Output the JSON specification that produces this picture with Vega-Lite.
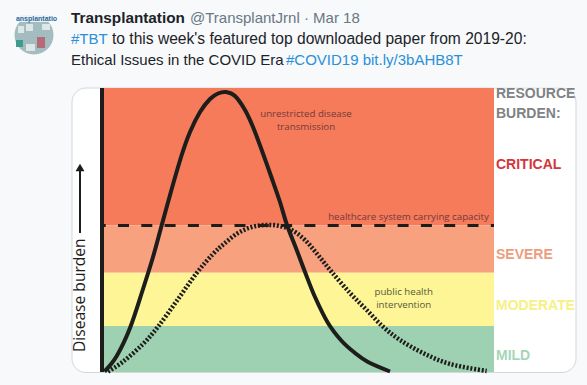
{"$schema":"https://vega.github.io/schema/vega-lite/v6.json","width":587,"height":385,"padding":0,"autosize":{"type":"fit","contains":"padding"},"background":"#f7f9fa","view":{"stroke":null},
"datasets":{
"card":[{"x":72,"x2":576,"y":88,"y2":372.5}],
"bands":[{"band":"Critical","x":104,"x2":494,"y":88,"y2":225.5},{"band":"Severe","x":104,"x2":494,"y":225.5,"y2":272.7},{"band":"Moderate","x":104,"x2":494,"y":272.7,"y2":326},{"band":"Mild","x":104,"x2":494,"y":326,"y2":372}],
"logo":[{"band":"logoD","x":20,"x2":48,"y":15,"y2":22},{"band":"logoA","x":26,"x2":33,"y":24,"y2":31},{"band":"logoA","x":42,"x2":50,"y":24,"y2":30},{"band":"logoA","x":26,"x2":35,"y":44,"y2":51},{"band":"logoB","x":16,"x2":23,"y":40,"y2":47},{"band":"logoC","x":37,"x2":45,"y":37,"y2":48},{"band":"logoA","x":18,"x2":24,"y":26,"y2":33}],
"capacity":[{"x":104,"y":225.5},{"x":494,"y":225.5}],
"unrestricted":[{"x":104.5,"y":371.5},{"x":116.7,"y":356},{"x":130,"y":328},{"x":143,"y":289},{"x":153,"y":257},{"x":161.5,"y":226},{"x":171.7,"y":189},{"x":181.7,"y":155},{"x":190,"y":132},{"x":200,"y":112},{"x":210,"y":99},{"x":218,"y":93.5},{"x":226,"y":92},{"x":235,"y":96},{"x":245,"y":110},{"x":253,"y":127},{"x":261.7,"y":150},{"x":271.7,"y":178},{"x":280,"y":202},{"x":287,"y":225},{"x":296.7,"y":250},{"x":305,"y":272},{"x":315,"y":297},{"x":328,"y":323},{"x":341.7,"y":341},{"x":355,"y":353},{"x":368,"y":362},{"x":390,"y":371.5}],
"intervention":[{"x":108,"y":371.5},{"x":123,"y":361.7},{"x":143,"y":344},{"x":158,"y":326.7},{"x":176.7,"y":301},{"x":196.7,"y":273},{"x":213,"y":254},{"x":225,"y":243},{"x":238,"y":233},{"x":251.7,"y":227},{"x":265,"y":225},{"x":278,"y":225.7},{"x":291.7,"y":230},{"x":305,"y":240},{"x":318,"y":255},{"x":331.7,"y":272},{"x":350,"y":293},{"x":366.7,"y":310},{"x":383,"y":326.7},{"x":400,"y":340},{"x":423,"y":353},{"x":450,"y":364},{"x":486.7,"y":371}],
"axisLine":[{"x":102,"y":88,"y2":372}],
"arrow":[{"x":80,"y":233,"y2":170}],
"arrowHead":[{"x":80,"y":167.5}],
"notes":[{"x":306,"y":117,"t":"unrestricted  disease","band":"noteRed"},{"x":306,"y":130,"t":"transmission","band":"noteRed"},{"x":408.5,"y":220,"t":"healthcare system carrying capacity","band":"noteRed"},{"x":403.7,"y":295,"t":"public health","band":"noteOlive"},{"x":403.7,"y":308,"t":"intervention","band":"noteOlive"}],
"levels":[{"x":496,"y":98,"t":"RESOURCE","band":"labelGrey"},{"x":496,"y":118,"t":"BURDEN:","band":"labelGrey"},{"x":496,"y":169,"t":"CRITICAL","band":"labelCritical"},{"x":496,"y":259,"t":"SEVERE","band":"labelSevere"},{"x":496,"y":310,"t":"MODERATE","band":"labelModerate"},{"x":496,"y":360,"t":"MILD","band":"labelMild"}],
"cover":[{"x":490,"x2":576,"y":80,"y2":87.5}],
"yLabel":[{"x":85,"y":352,"t":"Disease burden"}],
"avatar":[{"x":34,"y":35}],
"logoText":[{"x":36.5,"y":20.5,"t":"ansplantatio"}],
"name":[{"x":71,"y":23,"t":"Transplantation"}],
"tweet":[{"x":190,"y":23,"t":"@TransplantJrnl · Mar 18","band":"tweetGrey"},{"x":71,"y":44,"t":"#TBT","band":"tweetBlue"},{"x":71,"y":65,"t":"Ethical Issues in the COVID Era","band":"tweetDark"},{"x":286,"y":65,"t":"#COVID19 bit.ly/3bAHB8T","band":"tweetBlue"}],
"tweetLong":[{"x":112,"y":44,"t":"to this week's featured top downloaded paper from 2019-20:"}],
"more":[{"x":562},{"x":566.5},{"x":571}]
},
"encoding":{"x":{"field":"x","type":"quantitative","scale":{"domain":[0,587],"nice":false,"zero":false},"axis":null},"y":{"field":"y","type":"quantitative","scale":{"domain":[0,385],"reverse":true,"nice":false,"zero":false},"axis":null}},
"layer":[
{"data":{"name":"card"},"mark":{"type":"rect","fill":"#ffffff","stroke":"#cfd9de","strokeWidth":1,"cornerRadius":14},"encoding":{"x2":{"field":"x2"},"y2":{"field":"y2"}}},
{"data":{"name":"bands"},"mark":{"type":"rect"},"encoding":{"x2":{"field":"x2"},"y2":{"field":"y2"},"color":{"field":"band","type":"nominal","legend":null,"scale":{"domain":["Critical","Severe","Moderate","Mild","logoA","logoB","logoC","logoD","labelGrey","labelCritical","labelSevere","labelModerate","labelMild","tweetGrey","tweetBlue","tweetDark","noteRed","noteOlive"],"range":["#f57b5b","#f8a17f","#fdf596","#9ed1b1","#dfe6e8","#3f9a8f","#b66a78","#eef2f4","#808285","#d3363b","#ee9d80","#f6f183","#a6d6b8","#677785","#2a90d8","#1c2329","#74393a","#565a3a"]}}}},
{"data":{"name":"capacity"},"mark":{"type":"line","color":"#1d1d1b","strokeWidth":3,"strokeDash":[11,12.3],"strokeDashOffset":9.3}},
{"data":{"name":"intervention"},"mark":{"type":"line","color":"#1d1d1b","strokeWidth":4.5,"strokeDash":[2,1.8],"interpolate":"cardinal"}},
{"data":{"name":"unrestricted"},"mark":{"type":"line","color":"#1d1d1b","strokeWidth":4,"interpolate":"cardinal"}},
{"data":{"name":"axisLine"},"mark":{"type":"rule","color":"#1d1d1b","strokeWidth":4},"encoding":{"y2":{"field":"y2"}}},
{"data":{"name":"arrow"},"mark":{"type":"rule","color":"#1d1d1b","strokeWidth":2},"encoding":{"y2":{"field":"y2"}}},
{"data":{"name":"arrowHead"},"mark":{"type":"point","shape":"triangle-up","filled":true,"color":"#1d1d1b","size":80,"opacity":1}},
{"data":{"name":"notes"},"mark":{"type":"text","font":"Open Sans","fontSize":9.7,"align":"center","baseline":"alphabetic"},"encoding":{"text":{"field":"t"},"color":{"field":"band","type":"nominal","legend":null}}},
{"data":{"name":"levels"},"mark":{"type":"text","font":"Liberation Sans","fontWeight":"bold","fontSize":14,"align":"left","baseline":"alphabetic"},"encoding":{"text":{"field":"t"},"color":{"field":"band","type":"nominal","legend":null}}},
{"data":{"name":"cover"},"mark":{"type":"rect","fill":"#f7f9fa"},"encoding":{"x2":{"field":"x2"},"y2":{"field":"y2"}}},
{"data":{"name":"yLabel"},"mark":{"type":"text","font":"Open Sans","fontSize":15.6,"angle":270,"align":"left","baseline":"alphabetic","color":"#1d1d1b"},"encoding":{"text":{"field":"t"}}},
{"data":{"name":"avatar"},"mark":{"type":"point","shape":"circle","filled":true,"color":"#a3bcc0","size":1520,"opacity":1}},
{"data":{"name":"logo"},"mark":{"type":"rect"},"encoding":{"x2":{"field":"x2"},"y2":{"field":"y2"},"color":{"field":"band","type":"nominal","legend":null}}},
{"data":{"name":"logoText"},"mark":{"type":"text","font":"Liberation Sans","fontWeight":"bold","fontSize":7,"align":"center","baseline":"alphabetic","color":"#2b6aa0"},"encoding":{"text":{"field":"t"}}},
{"data":{"name":"name"},"mark":{"type":"text","font":"Liberation Sans","fontWeight":"bold","fontSize":15.3,"align":"left","baseline":"alphabetic","color":"#1c2329"},"encoding":{"text":{"field":"t"}}},
{"data":{"name":"tweet"},"mark":{"type":"text","font":"Liberation Sans","fontSize":15,"align":"left","baseline":"alphabetic"},"encoding":{"text":{"field":"t"},"color":{"field":"band","type":"nominal","legend":null}}},
{"data":{"name":"tweetLong"},"mark":{"type":"text","font":"Liberation Sans","fontSize":15.6,"align":"left","baseline":"alphabetic","color":"#1c2329"},"encoding":{"text":{"field":"t"}}},
{"data":{"name":"more"},"mark":{"type":"point","shape":"circle","filled":true,"color":"#677785","size":5,"opacity":1},"encoding":{"y":{"datum":18}}}
]}
